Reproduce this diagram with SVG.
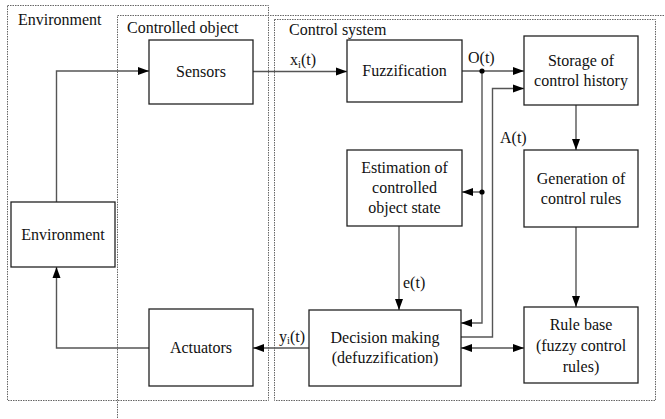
<svg xmlns="http://www.w3.org/2000/svg" width="665" height="419" viewBox="0 0 665 419">
<style>
text{font-family:"Liberation Serif","Liberation Sans",Arial,sans-serif;font-size:16px;fill:#111}
.c{text-anchor:middle}
.box{fill:#fff;stroke:#222;stroke-width:1.3}
.zone{fill:none;stroke:#666;stroke-width:1;stroke-dasharray:1.5 1}
.ln{fill:none;stroke:#555;stroke-width:1.4}
.sub{font-size:10.5px}
</style>
<defs>
<marker id="ah" markerUnits="userSpaceOnUse" markerWidth="12" markerHeight="10" refX="11" refY="5" orient="auto-start-reverse">
<path d="M0,1 L11,5 L0,9 Z" fill="#000"/>
</marker>
</defs>
<g id="zones">
<rect class="zone" x="7.5" y="5.5" width="261" height="395"/>
<rect class="zone" x="117.5" y="15.5" width="560" height="420"/>
<rect class="zone" x="274.5" y="19.5" width="381" height="381"/>
<text x="18" y="25">Environment</text>
<text x="127" y="33">Controlled object</text>
<text x="289" y="35">Control system</text>
</g>
<g id="connectors">
<polyline class="ln" points="56.5,202 56.5,71 149,71" marker-end="url(#ah)"/>
<line class="ln" x1="253" y1="71.5" x2="347" y2="71.5" marker-end="url(#ah)"/>
<line class="ln" x1="462" y1="71" x2="524" y2="71" marker-end="url(#ah)"/>
<polyline class="ln" points="482,71 482,323 461,323" marker-end="url(#ah)"/>
<line class="ln" x1="482" y1="192" x2="462" y2="192" marker-end="url(#ah)"/>
<polyline class="ln" points="461,337 492.5,337 492.5,88.5 524,88.5" marker-end="url(#ah)"/>
<line class="ln" x1="576" y1="105" x2="576" y2="150" marker-end="url(#ah)"/>
<line class="ln" x1="576" y1="227" x2="576" y2="307" marker-end="url(#ah)"/>
<line class="ln" x1="399" y1="226" x2="399" y2="310" marker-end="url(#ah)"/>
<line class="ln" x1="461" y1="348" x2="524" y2="348" marker-start="url(#ah)" marker-end="url(#ah)"/>
<line class="ln" x1="309" y1="348" x2="253" y2="348" marker-end="url(#ah)"/>
<polyline class="ln" points="149,348 56.5,348 56.5,267" marker-end="url(#ah)"/>
<circle cx="482" cy="71" r="2.6" fill="#000"/>
<circle cx="482" cy="192" r="2.6" fill="#000"/>
<text x="290" y="65">x<tspan class="sub" dy="3">i</tspan><tspan dy="-3">(t)</tspan></text>
<text x="468" y="63">O(t)</text>
<text x="500" y="143">A(t)</text>
<text x="403" y="288">e(t)</text>
<text x="279" y="342">y<tspan class="sub" dy="2">i</tspan><tspan dy="-2">(t)</tspan></text>
</g>
<g id="sensors">
<rect class="box" x="149" y="40" width="104" height="64"/>
<text class="c" x="201" y="77">Sensors</text>
</g>
<g id="fuzzification">
<rect class="box" x="347" y="40" width="115" height="62"/>
<text class="c" x="404.5" y="76">Fuzzification</text>
</g>
<g id="storage">
<rect class="box" x="524" y="36" width="114" height="69"/>
<text class="c" x="581" y="66">Storage of</text>
<text class="c" x="581" y="86">control history</text>
</g>
<g id="estimation">
<rect class="box" x="347" y="150" width="115" height="76"/>
<text class="c" x="404.5" y="173">Estimation of</text>
<text class="c" x="404.5" y="193">controlled</text>
<text class="c" x="404.5" y="213">object state</text>
</g>
<g id="generation">
<rect class="box" x="524" y="150" width="114" height="77"/>
<text class="c" x="581" y="184">Generation of</text>
<text class="c" x="581" y="204">control rules</text>
</g>
<g id="decision">
<rect class="box" x="309" y="310" width="152" height="76"/>
<text class="c" x="385" y="343">Decision making</text>
<text class="c" x="385" y="363">(defuzzification)</text>
</g>
<g id="rulebase">
<rect class="box" x="524" y="307" width="114" height="76"/>
<text class="c" x="581" y="330">Rule base</text>
<text class="c" x="581" y="351">(fuzzy control</text>
<text class="c" x="581" y="372">rules)</text>
</g>
<g id="environment">
<rect class="box" x="11" y="202" width="104" height="65"/>
<text class="c" x="63" y="240">Environment</text>
</g>
<g id="actuators">
<rect class="box" x="149" y="309" width="104" height="77"/>
<text class="c" x="201" y="353">Actuators</text>
</g>
</svg>
